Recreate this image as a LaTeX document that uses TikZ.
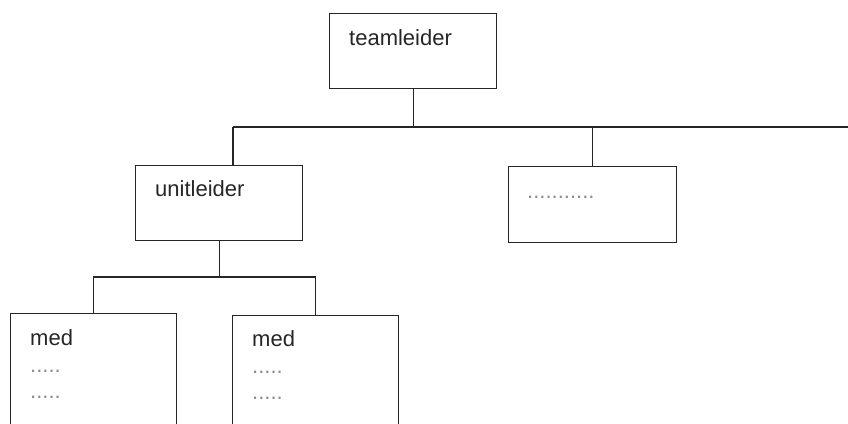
\documentclass[tikz,border=0pt]{standalone}
\usepackage{fontspec}
\setmainfont{Liberation Sans}
\begin{document}
\begin{tikzpicture}[x=1pt,y=-1pt,
  boxst/.style={draw=black!85, line width=1.3pt, rectangle, inner sep=0pt, anchor=north west},
  conn/.style={draw=black!85, line width=1.3pt},
  txt/.style={anchor=base west, inner sep=0pt, font=\fontsize{22}{26}\selectfont, text=black!85},
  dots/.style={anchor=base west, inner sep=0pt, font=\fontsize{22}{26}\selectfont, text=black!45}]
\useasboundingbox (0,0) rectangle (848,423);
\clip (0,0) rectangle (848,423);
% boxes
\node[boxst, minimum width=167pt, minimum height=75pt] (tl) at (329,13) {};
\node[boxst, minimum width=167pt, minimum height=75pt] (ul) at (135,165) {};
\node[boxst, minimum width=168pt, minimum height=76pt] (dt) at (508,166) {};
\node[boxst, minimum width=166pt, minimum height=130pt] (m1) at (10,313) {};
\node[boxst, minimum width=166pt, minimum height=130pt] (m2) at (232,315) {};
% texts
\node[txt] (tlt) at (349,45) {teamleider};
\node[txt] (ult) at (155,196) {unitleider};
\node[dots] (dtt) at (527,198) {...........};
\node[txt] (m1t) at (30,345) {med};
\node[dots] (m1a) at (30,372) {.....};
\node[dots] (m1b) at (30,398) {.....};
\node[txt] (m2t) at (252,346) {med};
\node[dots] (m2a) at (252,373) {.....};
\node[dots] (m2b) at (252,399) {.....};
% connectors
\coordinate (busL) at (233,127);
\coordinate (busR) at (848,127);
\draw[conn] (tl.south) -- (tl.south |- busL);
\draw[conn] (busL) -- (busR);
\draw[conn] (busL |- ul.north) -- (busL);
\draw[conn] (dt.north) -- (dt.north |- busL);
\coordinate (bus2) at (0,277);
\draw[conn] (ul.south) -- (ul.south |- bus2);
\draw[conn] (m1.north) -- (m1.north |- bus2) -- (m2.north |- bus2) -- (m2.north);
\end{tikzpicture}
\end{document}
